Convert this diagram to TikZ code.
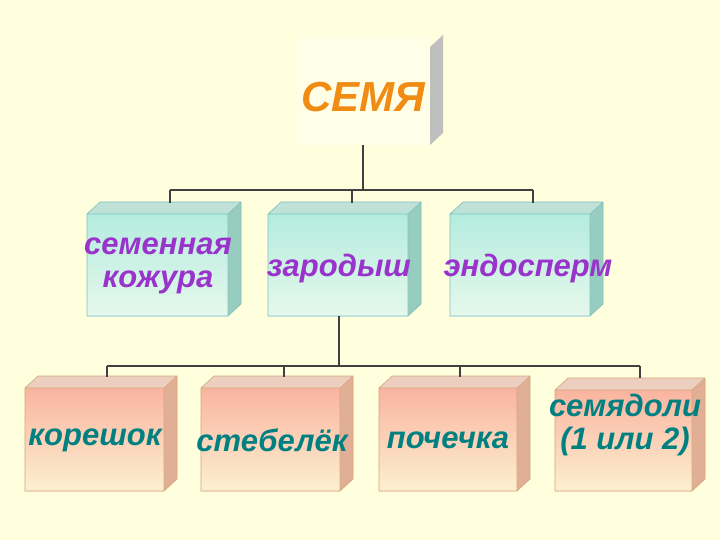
\documentclass[tikz,border=0pt]{standalone}
\usepackage{fontspec}
\setmainfont{Liberation Sans}
\begin{document}
\begin{tikzpicture}[x=1pt,y=-1pt,
 conn/.style={draw=black!75,line width=1.2pt},
 lbl/.style={font=\bfseries\itshape\fontsize{31}{33}\selectfont,align=center,inner sep=0pt},
]
\useasboundingbox[fill={rgb,255:red,255;green,255;blue,221}] (0,0) rectangle (720,540);
\newcommand{\cube}[8]{% x1 y1 x2 y2 top bottom side edge
 \fill[#7] (#3,#2) -- (#3+13,#2-12) -- (#3+13,#4-12) -- (#3,#4) -- cycle;
 \fill[#7!60!white] (#1,#2) -- (#1+13,#2-12) -- (#3+13,#2-12) -- (#3,#2) -- cycle;
 \shade[top color=#5,bottom color=#6] (#1,#2) rectangle (#3,#4);
 \draw[#8,line width=0.6pt] (#1,#2) rectangle (#3,#4) (#1,#2) -- (#1+13,#2-12) -- (#3+13,#2-12) -- (#3+13,#4-12) -- (#3,#4) (#3,#2) -- (#3+13,#2-12);
}
\definecolor{cyt}{RGB}{180,236,222}
\definecolor{cyb}{RGB}{230,248,236}
\definecolor{cys}{RGB}{150,205,190}
\definecolor{sat}{RGB}{250,180,160}
\definecolor{sab}{RGB}{252,240,208}
\definecolor{sas}{RGB}{225,175,150}
\definecolor{txp}{RGB}{153,51,204}
\definecolor{txt}{RGB}{0,128,128}
\definecolor{txo}{RGB}{240,140,20}
% top
\fill[black!25] (430,47) -- (443,35) -- (443,133) -- (430,145) -- cycle;
\fill[white!90!yellow] (297,35) rectangle (430,145);
\node[font=\bfseries\itshape\fontsize{42}{44}\selectfont,text=txo,inner sep=0pt] (seed) at (363,97) {СЕМЯ};
\coordinate (sb) at (363,145);
% middle
\cube{87}{214}{228}{316}{cyt}{cyb}{cys}{teal!50}
\cube{268}{214}{408}{316}{cyt}{cyb}{cys}{teal!50}
\cube{450}{214}{590}{316}{cyt}{cyb}{cys}{teal!50}
\node[lbl,text=txp] (m1) at (158,266) {семенная\\кожура};
\node[lbl,text=txp] (m2) at (339,268) {зародыш};
\node[lbl,text=txp] (m3) at (528,268) {эндосперм};
% bottom
\cube{25}{388}{164}{491}{sat}{sab}{sas}{brown!70}
\cube{201}{388}{340}{491}{sat}{sab}{sas}{brown!70}
\cube{379}{388}{517}{491}{sat}{sab}{sas}{brown!70}
\cube{555}{390}{692}{491}{sat}{sab}{sas}{brown!70}
\node[lbl,text=txt] (b1) at (95,440) {корешок};
\node[lbl,text=txt] (b2) at (272,440) {стебелёк};
\node[lbl,text=txt] (b3) at (448,440) {почечка};
\node[lbl,text=txt] (b4) at (625,425) {семядоли\\(1 или 2)};
% connectors
\coordinate (j1) at (363,190);
\draw[conn] (sb) -- (j1) (170,190) -- (533,190)
 (170,190) -- (170,203) (352,190) -- (352,203) (533,190) -- (533,203);
\draw[conn] (339,316) -- (339,366) (107,366) -- (640,366)
 (107,366) -- (107,377) (284,366) -- (284,377) (460,366) -- (460,377) (640,366) -- (640,378);
\end{tikzpicture}
\end{document}
